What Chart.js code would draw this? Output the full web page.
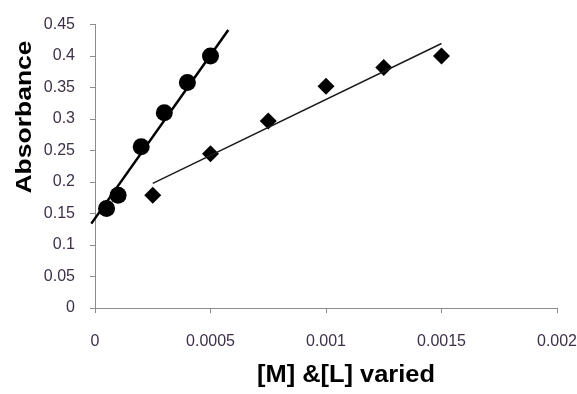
<!DOCTYPE html>
<html>
<head>
<meta charset="utf-8">
<script src="https://cdn.jsdelivr.net/npm/chart.js@4/dist/chart.umd.min.js"></script>
<style>
  html, body { margin: 0; padding: 0; background: #fff; }
  #wrap { width: 577px; height: 394px; }
</style>
</head>
<body>
<div id="wrap"><canvas id="chart" width="577" height="394"></canvas></div>
<script>
// Data
const circleX = [0.00005, 0.0001, 0.0002, 0.0003, 0.0004, 0.0005];
const circleY = [0.158, 0.179, 0.256, 0.31, 0.358, 0.40];
const diamondX = [0.00025, 0.0005, 0.00075, 0.001, 0.00125, 0.0015];
const diamondY = [0.179, 0.245, 0.297, 0.352, 0.382, 0.40];

// Trend line endpoints
const circleFitX = [-0.000016, 0.000577];
const circleFitY = [0.134, 0.4415];
const diamondFitX = [0.00025, 0.0015];
const diamondFitY = [0.198, 0.42];

const xTickLabels = ['0', '0.0005', '0.001', '0.0015', '0.002'];
const yTickLabels = ['0', '0.05', '0.1', '0.15', '0.2', '0.25', '0.3', '0.35', '0.4', '0.45'];

const xTitle = '[M] &[L] varied';
const yTitle = 'Absorbance';

const toPoints = (xs, ys) => xs.map((x, i) => ({ x: x, y: ys[i] }));

const axisGray = '#8c8c8c';
const tickTextColor = '#3e3048';

// Axis titles, stretched like the original picture
const titlePlugin = {
  id: 'titles',
  afterDraw(chart) {
    const ctx = chart.ctx;
    ctx.save();
    ctx.fillStyle = '#000';
    ctx.textAlign = 'center';
    ctx.textBaseline = 'middle';
    ctx.font = 'bold 23px "Liberation Sans", Arial, sans-serif';

    // x title
    let w = ctx.measureText(xTitle).width;
    ctx.save();
    ctx.translate(346, 376);
    ctx.scale(178 / w, 1);
    ctx.fillText(xTitle, 0, 0);
    ctx.restore();

    // y title
    ctx.font = 'bold 22px "Liberation Sans", Arial, sans-serif';
    w = ctx.measureText(yTitle).width;
    ctx.save();
    ctx.translate(25, 117);
    ctx.rotate(-Math.PI / 2);
    ctx.scale(153 / w, 1);
    ctx.fillText(yTitle, 0, 0);
    ctx.restore();

    ctx.restore();
  }
};

new Chart(document.getElementById('chart'), {
  type: 'scatter',
  data: {
    datasets: [
      {
        label: 'fit M',
        data: toPoints(circleFitX, circleFitY),
        showLine: true,
        borderColor: '#000',
        borderWidth: 2.5,
        pointRadius: 0,
        clip: false
      },
      {
        label: 'fit L',
        data: toPoints(diamondFitX, diamondFitY),
        showLine: true,
        borderColor: '#1a1a1a',
        borderWidth: 1.5,
        pointRadius: 0
      },
      {
        label: 'M',
        data: toPoints(circleX, circleY),
        pointStyle: 'circle',
        pointRadius: 8.5,
        backgroundColor: '#000',
        borderColor: '#000',
        borderWidth: 0
      },
      {
        label: 'L',
        data: toPoints(diamondX, diamondY),
        pointStyle: 'rectRot',
        pointRadius: 8.5,
        backgroundColor: '#000',
        borderColor: '#000',
        borderWidth: 0
      }
    ]
  },
  options: {
    responsive: false,
    animation: false,
    layout: { padding: { left: 0, top: 24, right: 0, bottom: 0 } },
    plugins: {
      legend: { display: false },
      tooltip: { enabled: false }
    },
    scales: {
      x: {
        type: 'linear',
        min: 0,
        max: 0.002,
        afterFit: (scale) => {
          scale.height = 86;
          scale.paddingRight = 20;
        },
        border: { color: axisGray, width: 1 },
        grid: { drawOnChartArea: false, color: axisGray, tickLength: 5 },
        ticks: {
          stepSize: 0.0005,
          padding: 19,
          color: tickTextColor,
          font: { family: '"Liberation Sans", Arial, sans-serif', size: 16 },
          maxRotation: 0,
          callback: (v, i) => xTickLabels[i]
        }
      },
      y: {
        min: 0,
        max: 0.45,
        afterFit: (scale) => { scale.width = 95; },
        border: { color: axisGray, width: 1 },
        grid: { drawOnChartArea: false, color: axisGray, tickLength: 5 },
        ticks: {
          stepSize: 0.05,
          padding: 15,
          color: tickTextColor,
          font: { family: '"Liberation Sans", Arial, sans-serif', size: 16 },
          callback: (v, i) => yTickLabels[i]
        }
      }
    }
  },
  plugins: [titlePlugin]
});
</script>
</body>
</html>
